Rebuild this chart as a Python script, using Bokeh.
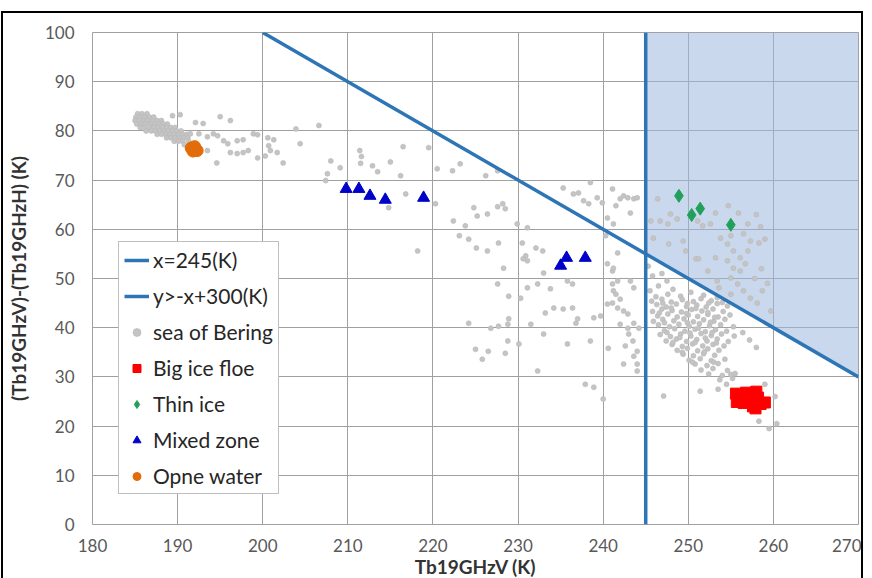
from bokeh.plotting import figure
from bokeh.models import Legend, LegendItem, FixedTicker
from bokeh.embed import file_html
from bokeh.resources import INLINE

# ---------------- data ----------------
x_ticks = [180, 190, 200, 210, 220, 230, 240, 250, 260, 270]
y_ticks = [0, 10, 20, 30, 40, 50, 60, 70, 80, 90, 100]

threshold_x = [245, 245]
threshold_y = [0, 100]
boundary_x = [200, 270]
boundary_y = [100, 30]
region_x = [245, 245, 270, 270]
region_y = [55, 100, 100, 30]

bering_x = [
    # dense cluster (upper left)
    185.3, 185.8, 186.4,
    185.1, 185.6, 186.1, 186.7, 187.2,
    185.0, 185.5, 186.0, 186.5, 187.0, 187.6, 188.1,
    185.2, 185.7, 186.2, 186.8, 187.3, 187.8, 188.3, 188.8,
    185.6, 186.1, 186.7, 187.2, 187.7, 188.2, 188.7, 189.2, 189.7,
    186.3, 186.9, 187.4, 187.9, 188.4, 188.9, 189.4, 189.9, 190.4,
    187.6, 188.1, 188.6, 189.1, 189.6, 190.1, 190.6, 191.1,
    188.7, 189.2, 189.7, 190.2, 190.7, 191.2,
    189.6, 190.1, 190.6, 191.3,
    190.8, 191.5,
    # scattered 189-207
    189.4, 190.3, 195.0, 196.2, 192.1, 193.0, 191.5, 192.5, 193.5, 194.2,
    194.7, 195.4, 195.9, 197.0, 197.7, 198.9, 199.4, 200.6, 201.3, 196.2,
    197.0, 197.7, 198.3, 199.4, 200.3, 200.9, 201.7, 202.4, 194.6, 193.5,
    204.4, 203.9, 206.6, 200.7,
    # scattered 207-228
    211.4, 211.6, 208.0, 211.5, 209.1, 215.0, 212.9, 213.5, 216.5, 219.5,
    207.6, 207.4, 216.2, 220.5, 222.3, 223.2, 226.2, 227.6, 220.3, 216.8,
    214.8, 224.8, 225.2, 226.4, 222.4, 223.8, 223.1, 224.2, 225.1, 226.4,
    218.2, 227.6, 227.6,
    # scattered 227-245
    227.7, 228.2, 228.5, 229.9, 231.1, 230.5, 230.9, 232.1, 232.9, 231.1,
    228.3, 228.9, 230.3, 231.1, 232.3, 233.8, 233.0, 235.8, 236.4, 234.2,
    235.3, 236.4, 233.2, 228.9, 228.8, 227.7, 224.2, 231.5, 233.0, 236.8,
    237.0, 238.9, 239.7, 238.5, 235.8, 228.8, 228.5, 225.0, 226.5, 225.8,
    232.3, 237.9, 238.9, 240.0, 241.1, 241.5, 242.0, 241.1, 241.7, 242.4,
    242.0, 242.9, 243.0, 243.6, 243.6, 243.2, 243.5, 244.0, 243.6, 244.0,
    242.6, 242.4, 241.1, 240.5, 241.2, 240.3, 241.7, 240.5, 241.2, 241.5,
    242.0, 242.9, 243.6, 243.2, 239.3, 239.9, 238.3, 237.7, 235.3, 236.5,
    237.1, 238.5, 241.1, 242.4, 230.6, 226.8, 230.1, 240.6, 240.5, 242.9,
    244.0, 241.2, 241.7, 244.2, 244.0,
    # dense cluster (right, below boundary)
    246.2, 247.6, 249.1, 250.3, 251.8, 253.4,
    245.7, 246.9, 248.0, 249.3, 250.6, 251.5, 252.7, 254.0,
    246.3, 247.4, 248.6, 249.8, 251.0, 252.1, 253.4, 254.6,
    245.8, 246.9, 248.1, 249.2, 250.4, 251.6, 252.9, 254.1,
    246.4, 247.6, 248.7, 250.0, 251.1, 252.3, 253.5, 254.9,
    245.9, 247.0, 248.3, 249.5, 250.6, 251.8, 253.0, 254.3,
    246.5, 247.8, 248.9, 250.1, 251.3, 252.5, 253.8, 255.3,
    247.2, 248.4, 249.6, 250.8, 252.0, 253.2, 254.5,
    246.7, 247.9, 249.1, 250.3, 251.5, 252.7, 253.9, 255.4,
    247.4, 248.6, 249.8, 251.0, 252.2, 253.4, 254.7,
    248.1, 249.3, 250.5, 251.7, 252.9, 254.2,
    248.7, 249.9, 251.1, 252.3, 253.6,
    249.4, 250.6, 251.8, 253.1,
    250.1, 251.4, 252.7, 254.3,
    250.8, 252.2, 253.5,
    251.5, 252.9, 254.6,
    252.4, 254.0, 255.5,
    253.7, 255.2,
    247.0, 249.9, 252.4, 246.6, 249.8, 252.3, 247.2, 249.9, 252.6, 247.5,
    250.2, 252.8, 248.2, 250.8, 253.3, 249.3, 251.9, 250.5, 253.0, 248.0,
    250.9, 253.1, 251.2, 249.0, 252.0,
    245.5, 246.5, 247.5, 248.2, 245.8, 246.9, 245.3, 256.4, 257.2, 258.0,
    # shaded region
    246.4, 247.9, 246.7, 248.7, 247.6, 251.1, 251.7, 252.6, 253.2, 254.7,
    255.9, 257.0, 256.5, 257.3, 258.3, 255.0, 254.6, 255.3, 256.1, 257.0,
    253.8, 249.4, 250.9, 251.2, 253.2, 254.6, 255.3, 256.1, 256.7, 255.0,
    255.8, 256.5, 253.4, 252.3, 247.7, 245.9, 245.6, 249.7, 258.7, 258.1,
    257.3, 259.7, 255.0, 253.6, 258.0, 258.5, 259.0, 257.8, 258.6, 259.3,
    # around the ice floe
    247.1, 251.4, 258.3, 259.5, 260.4, 259.0, 260.2, 254.5, 253.5, 255.0,
]

bering_y = [
    83.5, 83.5, 83.5,
    82.8, 82.8, 82.8, 82.8, 82.8,
    82.1, 82.1, 82.1, 82.1, 82.1, 82.1, 82.1,
    81.4, 81.4, 81.4, 81.4, 81.4, 81.4, 81.4, 81.4,
    80.7, 80.7, 80.7, 80.7, 80.7, 80.7, 80.7, 80.7, 80.7,
    80.0, 80.0, 80.0, 80.0, 80.0, 80.0, 80.0, 80.0, 80.0,
    79.3, 79.3, 79.3, 79.3, 79.3, 79.3, 79.3, 79.3,
    78.6, 78.6, 78.6, 78.6, 78.6, 78.6,
    77.9, 77.9, 77.9, 77.9,
    77.2, 77.2,
    83.1, 83.3, 82.9, 82.1, 81.7, 81.5, 79.4, 79.4, 78.8, 79.4,
    79.0, 78.0, 77.4, 78.0, 78.2, 79.4, 79.2, 78.6, 78.2, 75.6,
    75.4, 75.6, 76.0, 74.5, 74.9, 76.0, 75.6, 73.5, 73.5, 76.0,
    77.4, 80.4, 81.1, 77.0,
    76.0, 74.8, 73.9, 73.4, 72.5, 73.7, 72.9, 71.7, 76.8, 76.6,
    71.3, 69.9, 70.9, 72.3, 71.9, 73.3, 70.9, 71.9, 65.2, 67.2,
    64.4, 64.4, 62.7, 63.1, 61.7, 60.7, 58.7, 58.0, 56.2, 55.6,
    55.6, 48.9, 64.6,
    57.2, 65.2, 64.2, 61.1, 60.3, 57.2, 54.6, 56.2, 55.6, 53.6,
    52.1, 46.4, 46.0, 48.1, 48.9, 47.9, 51.1, 49.5, 48.9, 44.0,
    43.8, 44.0, 43.0, 41.8, 40.7, 40.3, 40.9, 40.7, 38.7, 40.9,
    41.8, 42.0, 42.4, 37.3, 36.7, 37.3, 34.8, 35.6, 35.2, 33.6,
    31.2, 28.5, 27.9, 25.5, 48.9, 46.8, 45.8, 45.0, 44.0, 43.4,
    40.7, 39.9, 38.7, 40.9, 48.1, 49.5, 37.3, 35.2, 34.2, 32.6,
    36.3, 32.6, 51.5, 53.0, 52.1, 58.7, 55.2, 62.3, 61.1, 64.8,
    66.2, 66.4, 66.2, 63.3, 66.4, 65.4, 65.2, 65.8, 68.4, 67.2,
    67.4, 69.5, 68.2, 66.8, 54.0, 39.9, 36.7, 35.8, 44.8, 42.8,
    31.2, 47.5, 49.5, 39.9, 66.4,
    46.3, 46.8, 46.4, 47.2, 46.6, 46.1,
    45.4, 45.8, 45.2, 45.7, 45.3, 45.9, 45.5, 45.1,
    44.7, 44.2, 44.8, 44.3, 44.6, 44.2, 44.9, 44.4,
    43.3, 43.8, 43.5, 43.2, 43.7, 43.4, 43.8, 43.3,
    42.4, 42.8, 42.2, 42.6, 42.3, 42.7, 42.2, 42.6,
    41.3, 41.7, 41.4, 41.8, 41.2, 41.6, 41.3, 41.7,
    40.6, 40.2, 40.7, 40.3, 40.8, 40.4, 40.6, 40.2,
    39.4, 39.8, 39.3, 39.7, 39.2, 39.6, 39.3,
    38.6, 38.2, 38.7, 38.3, 38.8, 38.4, 38.7, 38.3,
    37.3, 37.7, 37.2, 37.6, 37.3, 37.7, 37.2,
    36.6, 36.2, 36.7, 36.3, 36.6, 36.3,
    35.4, 35.8, 35.3, 35.7, 35.4,
    34.6, 34.3, 34.7, 34.4,
    33.4, 33.7, 33.3, 33.6,
    32.6, 32.3, 32.7,
    31.4, 31.7, 31.3,
    30.6, 30.3, 30.7,
    29.4, 29.7,
    45.0, 44.9, 45.0, 43.0, 42.9, 43.1, 41.0, 41.0, 41.1, 39.0,
    38.9, 39.0, 37.0, 37.0, 36.9, 35.0, 35.1, 33.0, 33.0, 44.0,
    43.9, 42.1, 39.9, 38.0, 37.9,
    47.5, 48.5, 49.5, 47.8, 50.5, 51.0, 52.5, 39.0, 37.5, 36.0,
    66.2, 63.1, 61.7, 62.1, 61.1, 61.7, 60.7, 61.1, 63.3, 64.8,
    63.3, 61.1, 59.1, 57.6, 57.2, 58.7, 57.0, 55.6, 54.2, 55.6,
    58.2, 57.6, 54.0, 54.0, 54.2, 53.6, 52.1, 51.5, 53.0, 50.1,
    48.9, 47.5, 49.5, 51.5, 57.0, 58.2, 61.7, 55.6, 47.5, 45.0,
    46.0, 43.4, 46.8, 48.1, 63.0, 60.5, 58.0, 50.0, 52.0, 49.0,
    26.1, 27.1, 21.0, 19.5, 20.5, 28.5, 26.0, 28.5, 27.5, 30.5,
]

floe_x = [255.6, 256.2, 256.8, 257.5, 258.0, 255.7, 256.5, 258.2, 257.6, 258.5, 259.0, 257.9, 256.9, 255.9]
floe_y = [26.6, 25.5, 26.8, 26.2, 27.0, 24.9, 24.7, 25.8, 24.0, 24.5, 24.8, 23.6, 25.9, 25.6]

thin_x = [248.9, 250.4, 251.4, 255.0]
thin_y = [66.8, 62.9, 64.2, 60.9]

mixed_x = [209.8, 211.3, 212.6, 214.4, 218.9, 235.7, 235.0, 237.9]
mixed_y = [68.2, 68.2, 66.8, 66.0, 66.4, 54.2, 52.6, 54.2]

water_x = [191.6, 192.3, 192.0, 191.8]
water_y = [76.5, 76.0, 76.8, 75.9]

labels = ["x=245(K)", "y>-x+300(K)", "sea of Bering", "Big ice floe",
          "Thin ice", "Mixed zone", "Opne water"]

# ---------------- figure ----------------
FONT = "Lato"
LINE_BLUE = "#2e75b6"

p = figure(width=858, height=567, x_range=(180, 270), y_range=(0, 100),
           output_backend="svg", toolbar_location=None,
           min_border_left=81, min_border_right=3, min_border_top=19,
           min_border_bottom=56)
p.styles = {"outline": "2px solid #000000", "margin-left": "3px",
            "margin-top": "13px", "margin-bottom": "-20px",
            "margin-right": "-12px"}

p.outline_line_color = "#a0a0a0"
p.outline_line_width = 1
p.background_fill_color = "white"
p.border_fill_color = "white"

for ax, ticks in ((p.xaxis, x_ticks), (p.yaxis, y_ticks)):
    ax.ticker = FixedTicker(ticks=ticks)
    ax.axis_line_color = None
    ax.major_tick_line_color = None
    ax.minor_tick_line_color = None
    ax.major_tick_out = 0
    ax.major_tick_in = 0
    ax.minor_tick_out = 0
    ax.major_label_text_font = FONT
    ax.major_label_text_font_size = "17px"
    ax.major_label_text_color = "#595959"
    ax.axis_label_text_font = FONT
    ax.axis_label_text_font_size = "19px"
    ax.axis_label_text_font_style = "bold"
    ax.axis_label_text_color = "#333333"

p.xaxis.axis_label = "Tb19GHzV (K)"
p.yaxis.axis_label = "(Tb19GHzV)-(Tb19GHzH) (K)"
p.xaxis.major_label_standoff = 14
p.xaxis.axis_label_standoff = 0
p.yaxis.major_label_standoff = 18
p.yaxis.axis_label_standoff = 12

p.xgrid.ticker = FixedTicker(ticks=x_ticks)
p.ygrid.ticker = FixedTicker(ticks=y_ticks)
for g in (p.xgrid, p.ygrid):
    g.grid_line_color = "#a0a0a0"
    g.grid_line_width = 1

# shaded region
p.patch(region_x, region_y, fill_color="#9cb8de", fill_alpha=0.55, line_color=None)

r_sea = p.scatter(bering_x, bering_y, marker="circle", size=5,
                  fill_color="#c4c4c4", line_color="#b8b8b8", line_width=0.6)

r_v = p.line(threshold_x, threshold_y, line_color=LINE_BLUE, line_width=3.5)
r_d = p.line(boundary_x, boundary_y, line_color=LINE_BLUE, line_width=3.5)

r_floe = p.scatter(floe_x, floe_y, marker="square", size=11,
                   fill_color="#ff0000", line_color="#ff0000")
r_thin = p.scatter(thin_x, thin_y, marker="diamond", size=13,
                   fill_color="#22a05a", line_color="#22a05a")
r_mixed = p.scatter(mixed_x, mixed_y, marker="triangle", size=12,
                    fill_color="#0000c8", line_color="#0000c8")
r_water = p.scatter(water_x, water_y, marker="circle", size=12,
                    fill_color="#e26b0a", line_color="#e26b0a")

renderers = [r_v, r_d, r_sea, r_floe, r_thin, r_mixed, r_water]
legend = Legend(
    items=[LegendItem(label=lab, renderers=[r]) for lab, r in zip(labels, renderers)],
    location=(26, 30), margin=0, padding=5, spacing=11,
    glyph_width=25, glyph_height=20, label_height=20, label_standoff=4,
    label_text_font=FONT, label_text_font_size="21px", label_text_color="#262626",
    border_line_color="#808080", border_line_width=1,
    background_fill_color="white", background_fill_alpha=1.0,
)
p.add_layout(legend)

open("out.html", "w").write(file_html(p, INLINE))
